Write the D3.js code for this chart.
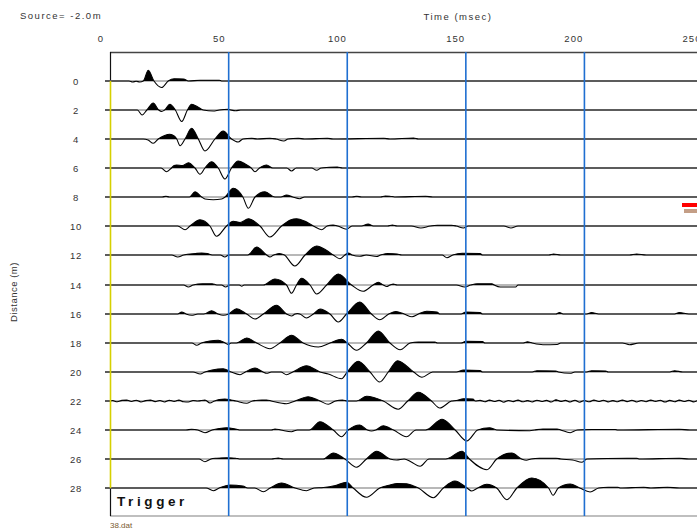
<!DOCTYPE html>
<html><head><meta charset="utf-8">
<script src="https://cdn.jsdelivr.net/npm/d3@7"></script>
<style>
body{margin:0;background:#fff}
svg{display:block}
text{font-family:"Liberation Sans",Arial,sans-serif}
</style>
</head><body>
<svg id="c" width="697" height="529"></svg>
<script>
const distances = [0,2,4,6,8,10,12,14,16,18,20,22,24,26,28];
const timeTicks = [0,50,100,150,200,250];
const gridTimes = [50,100,150,200];

// each trace: [time (ms), amplitude] key points
const trace0 = [[0,0],[8,0],[9.5,-1],[11,-0.3],[12.5,-1],[14,0],[16.1,10.7],[18.5,0],[21.7,-6.5],[24.5,0],[27,2.3],[31,2],[33,0],[38,0.8],[46,0.8],[47,0]];
const trace2 = [[0,0],[11.5,0],[13.5,-5],[15.5,0],[18.2,7],[20.5,0],[21.7,-1.5],[23,0],[25.2,5.7],[27.5,0],[30.2,-11.5],[32.6,0],[34.4,5.7],[37,3],[39.3,0],[43.5,-1],[46,0],[49.8,0.7],[51,0],[53,-0.7],[55,0]];
const trace4 = [[0,0],[14,0],[16,-1],[18.2,-4.3],[20.3,0],[23,3.5],[25.2,4.7],[27,3],[28.1,0],[29.5,-6.7],[31.6,0],[34.4,10.7],[37.2,0],[40,-12],[44.2,0],[47.7,8],[51.2,0],[54,-3],[56,0],[59.7,0.8],[62,0],[67.4,0.8],[70,0],[73.3,-2],[75,0],[79.3,0.8],[82,0],[91.6,0.8],[94,0],[115.4,0.8],[118,0],[128,1],[130,0]];
const trace6 = [[0,0],[21.5,0],[23.8,-3.7],[25.9,0],[27,2.5],[28,3],[30.5,2.5],[33,5.3],[35.8,0],[37.9,-6.3],[40,0],[42.8,6.3],[45.6,0],[48.4,-11],[51.2,0],[54,7],[57,4],[59.5,0],[61.1,-3.7],[63,0],[66,3],[68.5,0],[74.5,0],[76.5,-3],[78.5,0],[85,0],[87.1,-2.3],[89,0],[95.8,1],[98,0]];
const trace8 = [[0,0],[22,0],[23.5,0.7],[25,0],[33.5,0],[35.8,5.3],[38.6,0],[40,-2],[43.5,-2.7],[47,-2],[48.5,0],[51.9,8.7],[56,0],[58.3,-11.3],[61.1,0],[65.3,5.3],[69.5,0],[72,0],[74.4,2],[77,0],[80,-1.7],[82,0],[102,0],[104,0.8],[106,0],[114,0],[116,1],[118,0.8],[120,0],[133,0.7],[136,0]];
const trace10 = [[0,0],[28.5,0],[31.6,-3.7],[33.7,0],[37.9,6.3],[42.1,0],[44.9,-10.3],[49.1,0],[51.9,4.7],[54.8,3.5],[58.3,7.3],[63.2,0],[67.4,-11],[72.3,0],[76,6],[78.6,7.3],[82,5],[85.7,0],[89.2,-3.7],[91.5,0],[94,1],[96,0],[99.7,-3.3],[102,0],[106,0],[108.8,2],[111,0],[117,0],[119,1],[121,0],[127,0],[131,-2],[135,0],[138,0.7],[144,0.7],[146,0],[149,-2],[151,0],[166,0],[169,-2],[172,0]];
const trace12 = [[0,0],[26,0],[28.5,-2],[31,0],[36,1.5],[38.6,2],[41,1.5],[43,0],[46.5,0],[48.4,-2],[50,0],[58,0],[61.8,8],[66,0],[67.4,-2],[69,0],[71.3,1.5],[73.5,0],[77.9,-11],[82.2,0],[87.1,9],[91,5],[94.1,0],[96.9,-3.7],[99,0],[100.4,2],[102,0],[105.3,-1.3],[108,0],[112.4,-1.5],[114,0],[117,1.5],[121,1],[123,0],[140,0],[142,-2.7],[144.5,0],[148.5,1.7],[156,1.5],[157,0],[185,0],[187,1],[190,0],[219,0],[222,1],[226,0]];
const trace14 = [[0,0],[31,0],[33,-2],[35,0],[39,1.3],[43,1.3],[45,0],[47,0],[48.7,-2],[50.5,0],[54.5,0],[55.5,-1.3],[56.5,0],[64.6,0],[69.5,6],[74.4,0],[76.5,-8.3],[78.6,0],[80.7,6.7],[84.3,0],[87.1,-9],[91.3,0],[96.2,11],[101.8,0],[106.7,-6.3],[110.9,0],[113.1,2.7],[115.2,0],[116.6,-1.5],[118,0],[119.4,1],[121,0],[146,0],[149.5,-2],[152,0],[155,1.3],[161,1.3],[162,0],[164.5,-2],[171,-2],[172,0]];
const trace16 = [[0,0],[28.5,0],[30.2,2],[32,0],[34.4,-1.3],[37,0],[39.5,0],[42.8,3.3],[45.5,0],[47.7,-1.3],[50,0],[53.3,5.3],[57.6,0],[61.1,-5],[64.6,0],[70.2,8.7],[74.4,0],[76.5,-2],[78,0],[79,0.5],[80,0],[82.8,-4],[85.7,0],[88.5,5],[92.7,0],[96.2,-8],[99.7,0],[105.3,12],[110.2,0],[113.7,-5.7],[117.5,0],[120.5,2.5],[124,0],[127.3,-2.7],[130,0],[133.5,2.7],[137.8,2],[139,0],[148,0],[150,2],[156,1.5],[157,0],[188,0],[189.5,1.5],[191,0],[201,0],[203,1.5],[206,0],[238,0],[240,1.5],[244,0]];
const trace18 = [[0,0],[34.5,0],[36.5,-2.3],[38.5,0],[42,2],[45.6,2.7],[48.5,0],[49.8,-1.5],[51,0],[53.3,0],[57.6,5],[61.8,0],[67.4,-5.7],[71.6,0],[76.5,7.7],[81.4,0],[87.8,-4],[92.7,0],[97.6,3.7],[100,0],[103.9,-7.3],[108.1,0],[113.1,12],[118,0],[122.3,-6.7],[126.5,0],[130,1],[137,1],[138,0],[148,0],[150,1.7],[157,1.5],[158,0],[174,0],[176,1.2],[178,0],[182.5,-1.7],[188.5,-1.5],[190,0],[216,0],[219,-1.7],[223,0]];
const trace20 = [[0,0],[35,0],[38,-2],[40,0],[43,2],[47.7,3.3],[51,0],[54.8,-2.7],[57,0],[61.1,4],[64.5,0],[66,-1.3],[68,0],[72,0],[74.4,-2.7],[77,0],[82.8,6.3],[88.5,0],[92,-2],[97.6,-6.7],[100,0],[104.6,10.7],[109.6,0],[113.7,-10],[117.3,0],[121.2,11.3],[128,0],[131.5,-5.3],[136,0],[146,0],[149,2],[156,1.5],[157,0],[178,0],[180,1.3],[188,1],[189,0],[194,-1.3],[196,0],[201,0],[203,1.3],[209,1],[210,0],[236,0],[238,1.3],[241.5,0]];
const trace22 = [[0,0],[1,0.5],[3,-0.8],[5,0.6],[7,1],[9,-0.5],[11,0.8],[13,-1],[15,0.4],[17,1],[19,-0.6],[21,0.5],[23,-1],[25,0.8],[27,-0.4],[29,1],[31,-0.8],[33,-1],[35,0.5],[37,0],[40,1],[42.1,-2],[44,0],[46,1.5],[48.4,2],[51,1],[53,0],[57.6,-2.3],[60,0],[64,1],[66,1],[68,0],[74.4,-2.7],[78,0],[83.5,4.3],[88.5,0],[92,-3.3],[95,0],[98,1],[100,0],[103.9,0],[108.2,4.7],[115.2,0],[121.5,-8.3],[125.5,0],[130,8.7],[135.5,0],[139,-7],[144,0],[146,0.5],[149,2.3],[153,2],[154,0],[156,0.6],[158,-0.8],[160,1],[162,-0.5],[164,0.7],[166,-1.2],[168,0.5],[170,-0.6],[172,1],[174,-0.8],[176,0.4],[178,-1],[180,0.8],[182,-0.5],[184,0.6],[186,-1],[188,1.2],[190,-0.4],[192,0.6],[194,-1],[196,0.8],[198,-1.2],[200,0.5],[202,-0.8],[204,1],[206,-0.5],[208,0.7],[210,-0.9],[212,0.4],[214,-0.7],[216,1],[218,-0.6],[220,0.8],[222,-1],[224,0.5],[226,-0.7],[228,1],[230,-0.4],[232,0.7],[234,-1],[236,0.6],[238,-0.8],[240,1],[242,-0.5],[244,0.7],[246,-0.9],[248,0.5],[250,0]];
const trace24 = [[0,0],[32,0],[34.4,0.8],[37,0],[40,-2.7],[43,0],[46,1.5],[49.1,2.3],[53,1],[55,0],[68,0],[69.5,1],[72,0],[76.5,-1.7],[79,0],[84,0],[88.5,8.3],[94.1,0],[97.6,-6.7],[100.4,0],[105.3,5],[108.5,0],[110.2,-1],[112,0],[115.2,4.3],[119.5,0],[125,-6.7],[129,0],[133,0],[140,10.7],[145.5,0],[150.4,-11],[155,0],[160,2.3],[163,0],[177,-0.7],[179,0],[182.5,1],[188.5,1],[190,0],[194,-2.7],[197,0],[203,0.5],[213,0.5],[214,0],[240,0.8],[244.5,0]];
const trace26 = [[0,0],[37.5,0],[40,-2.7],[42.5,0],[45,0.8],[49.1,1.3],[53,0.8],[54.5,0],[68,0],[70.9,1],[73,0],[89.9,0],[94.1,6],[99,0],[103.9,-8.3],[108.1,0],[112.4,7.7],[118,0],[120.8,-1],[124,0],[127,-3],[130.7,-7.3],[134.5,0],[141.5,0],[148.4,7.7],[151.5,0],[158.9,-10.7],[163,0],[169.4,6],[173.5,0],[175.5,-1.3],[177.5,0],[181,0.8],[188,0.8],[190,0],[195,-1],[199,-3.3],[201,0],[218,0.8],[222,0.8],[223,0],[240,0.8],[244,0]];
const trace28 = [[0,0],[40.5,0],[43.5,-2.7],[46,0],[50.5,3],[56,2],[58,0],[61,0],[64.6,-3.7],[67.5,0],[72.3,5],[78,0],[82.8,-2.7],[86,0],[90,0.5],[95,2.5],[99.7,5.7],[102.5,0],[108.1,-9.3],[113.7,0],[118,3],[121,4.5],[125,4.3],[128,2],[130,0],[136.3,-9.7],[140.5,0],[145.4,7],[150.5,0],[152.5,-3],[155,0],[158.8,3.7],[163,0],[167.3,-11.7],[171.5,0],[177.8,10],[184.9,0],[186.8,-7.3],[189,0],[194,4],[198,0],[202.4,-4],[206,0],[210,0.8],[214,0.8],[215,0],[225,0.8],[228,0],[235,0.8],[240,0]];

const traces = [trace0,trace2,trace4,trace6,trace8,trace10,trace12,trace14,trace16,trace18,trace20,trace22,trace24,trace26,trace28];

const W = 697, H = 529;
const svg = d3.select("#c");
const x = d3.scaleLinear().domain([0,250]).range([110.1,703]);
const xLab = d3.scaleLinear().domain([0,250]).range([101,692]);
const y = d3.scaleLinear().domain([0,28]).range([81,488]);
const amp = d3.scaleLinear().domain([-10,10]).range([10,-10]);
const topY = 52, bottomY = 516;
const txt = "#333";
const baseY = d => Math.round(y(d));

// titles
svg.append("text").attr("x",20).attr("y",19).attr("font-size",9.5).attr("letter-spacing",1.5).attr("fill",txt).text("Source= -2.0m");
svg.append("text").attr("x",458).attr("y",20).attr("text-anchor","middle").attr("font-size",9.5).attr("letter-spacing",1.5).attr("fill",txt).text("Time (msec)");
svg.append("text").attr("transform","translate(17,292) rotate(-90)").attr("text-anchor","middle").attr("font-size",9.5).attr("letter-spacing",0.5).attr("fill",txt).text("Distance (m)");

// time tick labels
svg.selectAll(".tl").data(timeTicks).join("text").attr("class","tl")
  .attr("x",d=>xLab(d)).attr("y",41.5).attr("text-anchor","middle")
  .attr("font-size",9.5).attr("letter-spacing",1).attr("fill",txt).text(d=>d);

// distance labels
svg.selectAll(".dl").data(distances).join("text").attr("class","dl")
  .attr("x",76).attr("y",d=>baseY(d)+3.5).attr("text-anchor","middle")
  .attr("font-size",9.5).attr("letter-spacing",0.8).attr("fill",txt).text(d=>d);

// frame
svg.append("line").attr("x1",110).attr("x2",W).attr("y1",topY+0.5).attr("y2",topY+0.5).attr("stroke","#444").attr("stroke-width",1.6);
svg.append("line").attr("x1",110).attr("x2",W).attr("y1",bottomY).attr("y2",bottomY).attr("stroke","#aaa").attr("stroke-width",1.5);
svg.append("line").attr("x1",110.5).attr("x2",110.5).attr("y1",topY).attr("y2",baseY(0)).attr("stroke","#111").attr("stroke-width",1.2);
svg.append("line").attr("x1",110.5).attr("x2",110.5).attr("y1",baseY(28)).attr("y2",bottomY).attr("stroke","#111").attr("stroke-width",1.2);

// baselines
svg.selectAll(".bl").data(distances).join("line").attr("class","bl")
  .attr("x1",105).attr("x2",W).attr("y1",d=>baseY(d)).attr("y2",d=>baseY(d))
  .attr("stroke","#b8b8b8").attr("stroke-width",2);

// wiggle traces
const defs = svg.append("defs");
traces.forEach((tr,i)=>{
  const d = distances[i];
  const base = baseY(d);
  const pts = [[x.invert(105),0]].concat(tr, [[x.invert(W+2),0]]);
  defs.append("clipPath").attr("id","cp"+i).append("rect")
    .attr("x",105).attr("y",base-40).attr("width",W-105).attr("height",40);
  const area = d3.area().x(p=>x(p[0])).y0(base).y1(p=>base+amp(p[1])).curve(d3.curveMonotoneX);
  const line = d3.line().x(p=>x(p[0])).y(p=>base+amp(p[1])).curve(d3.curveMonotoneX);
  svg.append("path").attr("d",area(pts)).attr("fill","#000").attr("clip-path","url(#cp"+i+")");
  svg.append("path").attr("d",line(pts)).attr("fill","none").attr("stroke","#000").attr("stroke-width",1.1);
});

// time grid lines
svg.selectAll(".gl").data(gridTimes).join("line").attr("class","gl")
  .attr("x1",d=>x(d)).attr("x2",d=>x(d)).attr("y1",topY).attr("y2",bottomY)
  .attr("stroke","#1f6fd1").attr("stroke-width",1.6);

// trigger line
svg.append("line").attr("x1",110.5).attr("x2",110.5).attr("y1",baseY(0)).attr("y2",baseY(28))
  .attr("stroke","#d6d000").attr("stroke-width",1.6);

// markers at right edge
svg.append("rect").attr("x",682).attr("y",203).attr("width",15).attr("height",4).attr("fill","#ff0000");
svg.append("rect").attr("x",684).attr("y",209).attr("width",13).attr("height",4).attr("fill","#c49e86");

// trigger label & file name
svg.append("text").attr("x",117).attr("y",506).attr("font-size",13.5).attr("font-weight","bold").attr("letter-spacing",3.6).attr("fill","#111").text("Trigger");
svg.append("text").attr("x",110).attr("y",528).attr("font-size",8).attr("fill","#7a5a30").text("38.dat");
</script>
</body></html>
